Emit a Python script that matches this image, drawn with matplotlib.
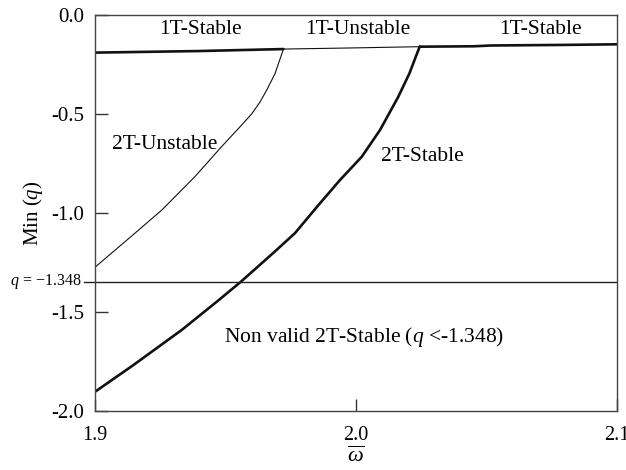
import matplotlib
matplotlib.use("Agg")
import matplotlib.pyplot as plt
import matplotlib.transforms as mtransforms

plt.rcParams['font.family'] = ['Liberation Serif', 'DejaVu Serif']
plt.rcParams['mathtext.fontset'] = 'custom'
plt.rcParams['mathtext.rm'] = 'Liberation Serif'
plt.rcParams['mathtext.it'] = 'Liberation Serif:italic'

# 1T branch (stable / unstable / stable)
w_1t_stable_a = [1.900, 1.940, 1.9722]
q_1t_stable_a = [-0.190, -0.182, -0.172]
w_1t_unstable = [1.9722, 2.000, 2.0244]
q_1t_unstable = [-0.172, -0.166, -0.160]
w_1t_stable_b = [2.0244, 2.045, 2.052, 2.080, 2.100]
q_1t_stable_b = [-0.160, -0.158, -0.154, -0.151, -0.148]

# 2T unstable branch
w_2t_unstable = [1.9000, 1.9064, 1.9153, 1.9256, 1.9383, 1.9485, 1.9556, 1.9600,
                 1.9632, 1.9658, 1.9690, 1.9722]
q_2t_unstable = [-1.274, -1.202, -1.102, -0.985, -0.816, -0.665, -0.564, -0.500,
                 -0.440, -0.379, -0.295, -0.172]

# 2T stable branch
w_2t_stable = [1.9000, 1.9147, 1.9332, 1.9475, 1.9559, 1.9682, 1.9766, 1.9851, 1.9939,
               2.0022, 2.0092, 2.0162, 2.0205, 2.0229, 2.0244]
q_2t_stable = [-1.903, -1.768, -1.591, -1.439, -1.347, -1.203, -1.102, -0.968, -0.833,
               -0.716, -0.581, -0.413, -0.294, -0.211, -0.160]

q_limit = -1.348
x_ticks = [1.9, 2.0, 2.1]
x_ticklabels = ['1.9', '2.0', '2.1']
y_ticks = [0.0, -0.5, -1.0, -1.5, -2.0]
y_ticklabels = ['0.0', '-0.5', '-1.0', '-1.5', '-2.0']

fig = plt.figure(figsize=(6.26, 4.70), dpi=100)
ax = fig.add_axes([95/626, 1 - 411/470, 522/626, 396/470])

thick = 1.9
thin = 0.8
col = '#111111'
kw = dict(solid_joinstyle='round', solid_capstyle='round')
ax.plot(w_1t_stable_a, q_1t_stable_a, color=col, lw=thick, **kw)
ax.plot(w_1t_unstable, q_1t_unstable, color=col, lw=thin, **kw)
ax.plot(w_1t_stable_b, q_1t_stable_b, color=col, lw=thick, **kw)
ax.plot(w_2t_unstable, q_2t_unstable, color=col, lw=thin, **kw)
ax.plot(w_2t_stable, q_2t_stable, color=col, lw=thick, **kw)
ax.axhline(q_limit, color='#222222', lw=1.0)
trans = mtransforms.blended_transform_factory(ax.transAxes, ax.transData)
ax.plot([-0.022, 0], [q_limit, q_limit], color='#222222', lw=1.0, transform=trans, clip_on=False)
ax.text(-0.026, q_limit, r'$q$ = −1.348', transform=trans, ha='right', va='center', fontsize=11.5)

ax.set_xlim(1.9, 2.1)
ax.set_ylim(-2.0, 0.0)
ax.set_xticks(x_ticks)
ax.set_xticklabels(x_ticklabels)
ax.set_yticks(y_ticks)
ax.set_yticklabels(y_ticklabels)
ax.tick_params(direction='in', length=9, width=1.0, labelsize=15, color='#333333', pad=8)
ax.tick_params(axis='x', pad=11, labelsize=14.5)
for s in ax.spines.values():
    s.set_color('#444444')
    s.set_linewidth(1.0)

ax.set_ylabel(r'Min $(q)$', fontsize=15, labelpad=4)
ax.set_xlabel(r'$\overline{\omega}$', fontsize=16, labelpad=1)

fs = 15.5
ax.text(1.9405, -0.075, '1T-Stable', ha='center', va='center', fontsize=fs)
ax.text(2.0005, -0.075, '1T-Unstable', ha='center', va='center', fontsize=fs)
ax.text(2.0705, -0.075, '1T-Stable', ha='center', va='center', fontsize=fs)
ax.text(1.9065, -0.655, '2T-Unstable', ha='left', va='center', fontsize=fs)
ax.text(2.0095, -0.715, '2T-Stable', ha='left', va='center', fontsize=fs)
ax.text(1.9495, -1.625, r'Non valid 2T-Stable ($q$ <-1.348)', ha='left', va='center', fontsize=fs)

fig.savefig('out.png', dpi=100)
